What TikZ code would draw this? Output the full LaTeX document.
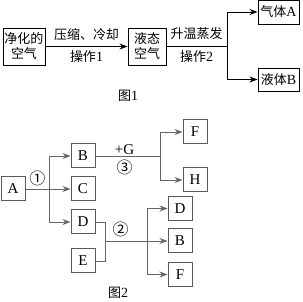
\documentclass[tikz,border=0pt]{standalone}
\usepackage{fontspec}
\setmainfont{Liberation Serif}
\newfontfamily\cjk{Noto Sans CJK SC}
\usetikzlibrary{arrows.meta}
\newcommand{\lat}[1]{{\rmfamily\fontsize{14}{15}\selectfont #1}}
\begin{document}
\begin{tikzpicture}[x=1pt, y=-1pt,
    >={Stealth[length=8pt,width=6pt]},
    every node/.style={font=\fontsize{15}{16}\selectfont},
    % Styles
    boxA/.style={draw, line width=0.9pt, inner sep=0pt, align=center,
                 font=\cjk\fontsize{13}{17}\selectfont},
    boxB/.style={draw=black!65, line width=1pt, inner sep=0pt,
                 minimum width=24pt, minimum height=24pt},
    lineA/.style={line width=0.8pt},
    lineB/.style={line width=0.9pt, draw=black!60},
    lbl/.style={font=\cjk\fontsize{13}{15}\selectfont, inner sep=0pt},
    num/.style={font=\cjk\fontsize{16}{16}\selectfont, inner sep=0pt},
  ]
  \useasboundingbox (0,0) rectangle (303,302);

  % Figure 1
  \node[boxA, minimum width=42pt, minimum height=37pt] (air) at (24,46.5) {净化的\\[-2pt]空气};
  \node[boxA, minimum width=38pt, minimum height=37pt] (liq) at (147,46.5) {液态\\[-2pt]空气};
  \node[boxA, minimum width=41pt, minimum height=24pt] (gasA) at (278.5,12) {气体\lat{A}};
  \node[boxA, minimum width=41pt, minimum height=23pt] (liqB) at (278.5,79.5) {液体\lat{B}};
  \coordinate (j1) at (227,46.5);

  \draw[lineA, ->] (air) -- (liq)
    node[midway, lbl, above=6pt] {压缩、冷却}
    node[midway, lbl, below=4pt] {操作\lat{1}};
  \draw[lineA] (liq) -- (j1)
    node[midway, lbl, above=6pt] {升温蒸发}
    node[midway, lbl, below=4pt] {操作\lat{2}};
  \draw[lineA, ->] (j1) |- (gasA);
  \draw[lineA, ->] (j1) |- (liqB);

  \node[lbl] (fig1) at (128,96) {图\lat{1}};

  % Figure 2
  \node[boxB] (A) at (13,189) {A};
  \node[boxB] (B) at (83,156) {B};
  \node[boxB] (C) at (83,189) {C};
  \node[boxB] (D) at (83,222) {D};
  \node[boxB] (E) at (83,261) {E};
  \node[boxB] (F) at (195,132) {F};
  \node[boxB] (H) at (195,180) {H};
  \node[boxB] (D2) at (180,208.5) {D};
  \node[boxB] (B2) at (180,241) {B};
  \node[boxB] (F2) at (180,274.5) {F};
  \coordinate (j2) at (49,189);
  \coordinate (j3) at (160,156);
  \coordinate (j4) at (105,241);
  \coordinate (j5) at (147,241);

  \draw[lineB] (A) -- (j2) node[midway, num, above=3pt] {①};
  \draw[lineB, ->] (j2) |- (B);
  \draw[lineB, ->] (j2) -- (C);
  \draw[lineB, ->] (j2) |- (D);

  \draw[lineB] (B) -- (j3)
    node[pos=0.45, above=1pt, inner sep=0pt] {+G}
    node[pos=0.45, num, below=4pt] {③};
  \draw[lineB, ->] (j3) |- (F);
  \draw[lineB, ->] (j3) |- (H);

  \draw[lineB] (D) -| (j4);
  \draw[lineB] (E) -| (j4);
  \draw[lineB, ->] (j4) -- (B2) node[pos=0.25, num, above=4pt] {②};
  \draw[lineB, ->] (j5) |- (D2);
  \draw[lineB, ->] (j5) |- (F2);

  \node[lbl] (fig2) at (118,293) {图\lat{2}};
\end{tikzpicture}
\end{document}
